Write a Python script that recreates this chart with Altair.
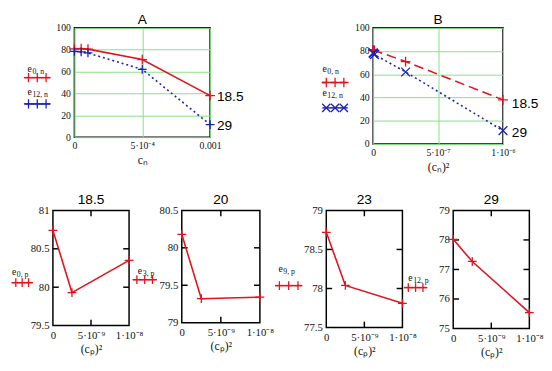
import altair as alt
import pandas as pd

# ---------------- data ----------------
c_n = [0.0, 0.00005, 0.0001, 0.0005, 0.001]
e0_n = [80.8, 81.0, 80.5, 71.0, 38.0]
e12_n = [78.5, 78.0, 77.0, 62.0, 11.5]
c_n_sq = [v * v for v in c_n]

c_p_sq = [0.0, 2.5e-9, 1e-8]
e0_p = [80.74, 79.93, 80.35]
e3_p = [80.18, 79.32, 79.34]
e9_p = [78.72, 78.04, 77.81]
e12_p = [78.02, 77.27, 75.54]

end_labels = ["18.5", "29"]
titles = ["A", "B", "18.5", "20", "23", "29"]

xt_A = [0.0, 0.0005, 0.001]; xl_A = ["0", "5·10⁻⁴", "0.001"]
xt_B = [0.0, 5e-7, 1e-6]; xl_B = ["0", "5·10⁻⁷", "1·10⁻⁶"]
xt_P = [0.0, 5e-9, 1e-8]; xl_P = ["0", "5·10⁻⁹", "1·10⁻⁸"]
yt_top = [0, 20, 40, 60, 80, 100]
yt_P1 = [79.5, 80, 80.5, 81]
yt_P2 = [79, 79.5, 80, 80.5]
yt_P3 = [77.5, 78, 78.5, 79]
yt_P4 = [75, 76, 77, 78, 79]

RED = "#e0141e"
BLUE = "#1a22b4"
GREEN = "#88e088"
PLUS = "M-1,0L1,0M0,-1L0,1"
XMARK = "M-1,-1L1,1M-1,1L1,-1"
SERIF = "Liberation Serif"
SANS = "Liberation Sans"
ANCHOR = -43
TITLE_FIX = -19


def lbl_expr(vals, labs):
    expr = "''"
    for v, l in reversed(list(zip(vals, labs))):
        expr = f"datum.value == {v!r} ? '{l}' : {expr}"
    return expr


def one():
    return pd.DataFrame({"k": [0]})


def legend_layers(sub, color, shape, dash, tx, ty, lx0, lx1, ly, size):
    L = []
    L.append(alt.Chart(one()).mark_text(text="e", align="left", baseline="middle", font=SERIF,
                                        fontSize=10, color="#111").encode(x=alt.value(tx), y=alt.value(ty)))
    L.append(alt.Chart(one()).mark_text(text=sub, align="left", baseline="middle", font=SERIF,
                                        fontSize=8, color="#111").encode(x=alt.value(tx + 5), y=alt.value(ty + 3)))
    kw = {"strokeDash": dash} if dash else {}
    L.append(alt.Chart(one()).mark_rule(color=color, strokeWidth=1.5, **kw).encode(
        x=alt.value(lx0), x2=alt.value(lx1), y=alt.value(ly)))
    for px in [lx0 + 4, (lx0 + lx1) / 2, lx1 - 4]:
        L.append(alt.Chart(one()).mark_point(shape=shape, filled=False, size=size, strokeWidth=1.3,
                                             color=color, opacity=1).encode(x=alt.value(px), y=alt.value(ly)))
    return L


def panel(title, toff, xs, series, xdom, xvals, xlabs, xtitle, ydom, yvals, w, h,
          grid, inward_x, inward_y, legends, lsize, anchor=False):
    X = alt.X("x:Q", scale=alt.Scale(domain=xdom, nice=False, zero=False),
              axis=alt.Axis(values=xvals, labelExpr=lbl_expr(xvals, xlabs), title=xtitle, grid=grid,
                            gridColor=GREEN, gridWidth=1, labelFlush=False, labelOverlap=False,
                            labelFontSize=lsize, labelPadding=4, titlePadding=4, titleFontSize=12))
    Y = alt.Y("y:Q", scale=alt.Scale(domain=ydom, nice=False, zero=False),
              axis=alt.Axis(values=yvals, format="~r", title=None, grid=grid, gridColor=GREEN,
                            gridWidth=1, labelFlush=False, labelOverlap=False, labelFontSize=lsize,
                            labelPadding=4))
    layers = []
    if inward_x:
        tdx = pd.DataFrame({"x": inward_x})
        layers.append(alt.Chart(tdx).mark_rule(color="black", strokeWidth=1.5).encode(
            x=X, y=alt.value(0), y2=alt.value(6)))
        layers.append(alt.Chart(tdx).mark_rule(color="black", strokeWidth=1.5).encode(
            x=X, y=alt.value(h - 6), y2=alt.value(h)))
    if inward_y:
        tdy = pd.DataFrame({"y": inward_y})
        layers.append(alt.Chart(tdy).mark_rule(color="black", strokeWidth=1.5).encode(
            y=Y, x=alt.value(0), x2=alt.value(6)))
        layers.append(alt.Chart(tdy).mark_rule(color="black", strokeWidth=1.5).encode(
            y=Y, x=alt.value(w - 6), x2=alt.value(w)))
    for s in series:
        df = pd.DataFrame({"x": xs, "y": s["y"]})
        kw = {"strokeDash": s["dash"]} if s.get("dash") else {}
        layers.append(alt.Chart(df).mark_line(color=s["color"], strokeWidth=1.6, **kw).encode(x=X, y=Y))
        layers.append(alt.Chart(df).mark_point(shape=s["shape"], filled=False, size=s["size"],
                                               strokeWidth=1.3, color=s["color"], opacity=1).encode(x=X, y=Y))
        if s.get("label"):
            dl = df.tail(1).assign(lbl=s["label"])
            layers.append(alt.Chart(dl).mark_text(align="left", baseline="middle", dx=s["dx"], dy=s["dy"],
                                                  font=SANS, fontSize=14, color="black").encode(
                x=X, y=Y, text="lbl:N"))
    for lg in legends:
        layers += legend_layers(**lg)
    if anchor:
        layers.append(alt.Chart(one()).mark_point(opacity=0, size=1).encode(
            x=alt.value(ANCHOR), y=alt.value(h / 2)))
    return alt.layer(*layers).properties(
        width=w, height=h,
        title=alt.TitleParams(text=title, font=SANS, fontSize=14, fontWeight="normal", anchor="middle",
                              frame="group", offset=toff + TITLE_FIX, baseline="alphabetic", color="black"))


def spacer(w, anchor=False):
    enc = {"x": alt.value(ANCHOR), "y": alt.value(0)} if anchor else {"x": alt.value(0), "y": alt.value(0)}
    return alt.Chart(one()).mark_point(opacity=0, size=1).encode(**enc).properties(
        width=w, height=1, view=alt.ViewBackground(stroke="transparent"))


A = panel(titles[0], 4, c_n,
          [dict(y=e0_n, color=RED, shape=PLUS, size=100, label=end_labels[0], dx=7, dy=1),
           dict(y=e12_n, color=BLUE, shape=PLUS, size=81, dash=[2, 3], label=end_labels[1], dx=7, dy=2)],
          [0, 0.001], xt_A, xl_A, "cₙ", [0, 100], yt_top, 139, 112, True, None, None,
          [dict(sub="0, n", color=RED, shape=PLUS, dash=None, tx=-48, ty=42, lx0=-51, lx1=-25, ly=51, size=90),
           dict(sub="12, n", color=BLUE, shape=PLUS, dash=None, tx=-48, ty=66, lx0=-51, lx1=-25, ly=78, size=90)],
          10)

B = panel(titles[1], 4, c_n_sq,
          [dict(y=e0_n, color=RED, shape=PLUS, size=100, dash=[10, 5], label=end_labels[0], dx=9, dy=4),
           dict(y=e12_n, color=BLUE, shape=XMARK, size=81, dash=[2, 3], label=end_labels[1], dx=9, dy=2)],
          [0, 1e-6], xt_B, xl_B, "(cₙ)²", [0, 100], yt_top, 133, 119, True, None, None,
          [dict(sub="0, n", color=RED, shape=PLUS, dash=[6, 3], tx=-52, ty=42, lx0=-52, lx1=-26, ly=56, size=90),
           dict(sub="12, n", color=BLUE, shape=XMARK, dash=None, tx=-52, ty=67, lx0=-52, lx1=-26, ly=82, size=70)],
          10)


def bottom(title, ys, ydom, yvals, w, h, sub, tx, ty, lx0, lx1, ly, anchor=False):
    return panel(title, 6, c_p_sq, [dict(y=ys, color=RED, shape=PLUS, size=81)],
                 [0, 1e-8], xt_P, xl_P, "(cₚ)²", ydom, yvals, w, h, False, [5e-9], yvals[1:-1],
                 [dict(sub=sub, color=RED, shape=PLUS, dash=None, tx=tx, ty=ty, lx0=lx0, lx1=lx1, ly=ly, size=81)],
                 11, anchor)


P1 = bottom(titles[2], e0_p, [79.5, 81], yt_P1, 78, 118, "0, p", -42, 63, -42, -21, 74, anchor=True)
P2 = bottom(titles[3], e3_p, [79, 80.5], yt_P2, 80, 115, "3, p", -45, 62, -50, -26, 71)
P3 = bottom(titles[4], e9_p, [77.5, 79], yt_P3, 78, 120, "9, p", -49, 60, -52, -25, 77)
P4 = bottom(titles[5], e12_p, [75, 79], yt_P4, 78, 121, "12, p", -46, 69, -50, -27, 79)

row1 = alt.hconcat(spacer(22, anchor=True), A, spacer(167), B, spacing=0, bounds="flush")
row2 = alt.hconcat(P1, spacer(54), P2, spacer(68), P3, spacer(52), P4, spacing=0, bounds="flush")

chart = alt.vconcat(row1, row2, spacing=19).properties(padding=0).configure_view(
    stroke="black", strokeWidth=1.5
).configure_axis(
    labelFont=SERIF, labelColor="#111", titleFont=SERIF, titleColor="#111", titleFontWeight="normal",
    domain=False, ticks=False
)

chart.save("out.html", embed_options={"renderer": "svg", "actions": False})
